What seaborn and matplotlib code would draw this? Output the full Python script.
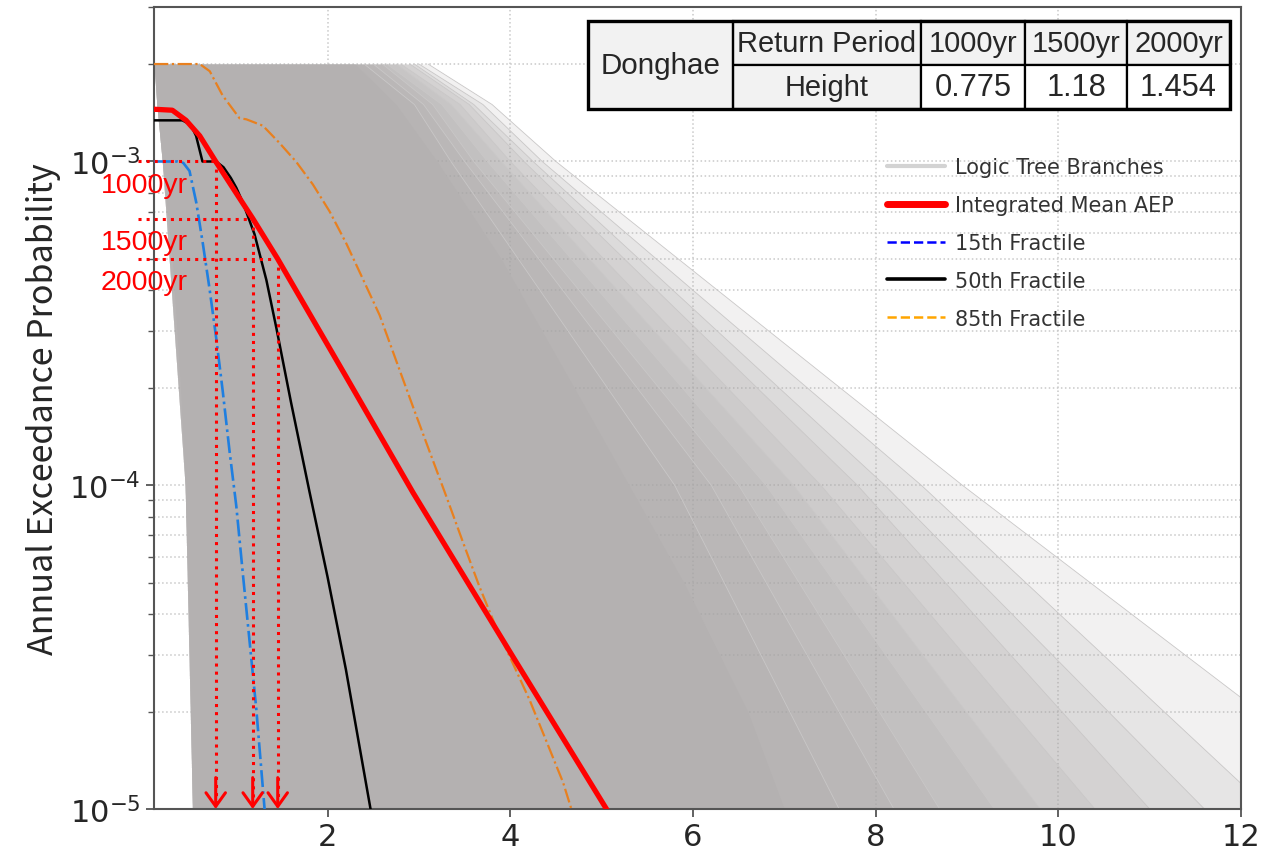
import numpy as np
import pandas as pd
import matplotlib
matplotlib.use("Agg")
import matplotlib.pyplot as plt
import seaborn as sns
from matplotlib.lines import Line2D
from matplotlib.patches import Rectangle
from matplotlib import font_manager as fm

# ---------------- data ----------------
# dense core of the logic-tree branches: x at each AEP level
levels_aep = [2e-3, 1.5e-3, 1e-3, 5e-4, 2e-4, 1e-4, 5e-5, 2e-5, 1e-5]
branch_left_x = [0.10, 0.13, 0.19, 0.30, 0.39, 0.44, 0.47, 0.50, 0.52]
branch_core_x = [2.3, 2.75, 3.2, 3.9, 4.7, 5.3, 5.9, 6.6, 7.0]

# sparser outer branches: x at AEP = 2e-3 (leaving the cap), 1.5e-3, 1e-3, 1e-4, 1e-5
fringe_aep = [2e-3, 1.5e-3, 1e-3, 1e-4, 1e-5]
fringe_left_x = [0.10, 0.13, 0.19, 0.44, 0.52]
fringe_branches = [
    [2.40, 2.95, 3.35, 5.8, 7.6],
    [2.50, 3.05, 3.50, 6.2, 8.2],
    [2.60, 3.15, 3.60, 6.5, 8.7],
    [2.65, 3.25, 3.75, 6.8, 9.3],
    [2.75, 3.35, 3.90, 7.1, 9.8],
    [2.80, 3.45, 4.00, 7.4, 10.4],
    [2.90, 3.55, 4.15, 7.8, 11.0],
    [2.95, 3.60, 4.25, 8.1, 11.6],
    [3.00, 3.70, 4.35, 8.5, 12.3],
    [3.10, 3.80, 4.50, 8.95, 13.6],
]

mean_x = [0.1, 0.3, 0.45, 0.6, 0.775, 1.0, 1.18, 1.454, 2.2, 2.934, 4.03, 5.053, 5.2]
mean_aep = [1.45e-3, 1.44e-3, 1.34e-3, 1.2e-3, 1e-3, 7.98e-4, 6.67e-4, 5e-4,
            2.17e-4, 9.5e-5, 2.95e-5, 1e-5, 8.55e-6]

fr15_x = [0.1, 0.36, 0.42, 0.488, 0.562, 0.634, 0.707, 0.781, 0.853, 0.927,
          1.0, 1.072, 1.146, 1.219, 1.31, 1.33]
fr15_aep = [1e-3, 1e-3, 9.9e-4, 9.35e-4, 7.47e-4, 5.58e-4, 4.05e-4, 2.84e-4,
            1.94e-4, 1.27e-4, 8.64e-5, 5.33e-5, 3.29e-5, 2.04e-5, 1e-5, 9e-6]

fr50_x = [0.1, 0.41, 0.5, 0.56, 0.63, 0.78, 0.86, 0.94, 1.0, 1.072, 1.2, 1.33,
          1.44, 1.6, 1.8, 2.0, 2.2, 2.47, 2.52]
fr50_aep = [1.34e-3, 1.34e-3, 1.3e-3, 1.2e-3, 1.0e-3, 1.0e-3, 9.6e-4, 8.9e-4,
            8.3e-4, 7.47e-4, 5.96e-4, 4.3e-4, 3.05e-4, 1.8e-4, 9.6e-5, 5.2e-5,
            2.7e-5, 1e-5, 8.6e-6]

fr85_x = [0.1, 0.6, 0.71, 0.85, 1.036, 1.11, 1.291, 1.474, 1.657, 1.839, 2.022,
          2.205, 2.387, 2.57, 2.752, 2.934, 3.117, 3.3, 3.482, 3.665, 3.848,
          4.03, 4.212, 4.395, 4.577, 4.669, 4.75]
fr85_aep = [2e-3, 2e-3, 1.9e-3, 1.6e-3, 1.36e-3, 1.35e-3, 1.29e-3, 1.14e-3,
            9.97e-4, 8.49e-4, 7.01e-4, 5.58e-4, 4.33e-4, 3.35e-4, 2.42e-4,
            1.75e-4, 1.27e-4, 9.23e-5, 6.67e-5, 4.84e-5, 3.62e-5, 2.81e-5,
            2.17e-5, 1.62e-5, 1.21e-5, 1e-5, 8.6e-6]

return_periods = ["1000yr", "1500yr", "2000yr"]
return_aep = [1e-3, 1 / 1500, 5e-4]
return_height = [0.775, 1.18, 1.454]
site_name = "Donghae"

legend_labels = ["Logic Tree Branches", "Integrated Mean AEP", "15th Fractile",
                 "50th Fractile", "85th Fractile"]

# ---------------- style ----------------
sns.set_style("white")
plt.rcParams["font.family"] = ["DejaVu Sans"]
names = {f.name for f in fm.fontManager.ttflist}
NARROW = "Liberation Sans Narrow" in names
table_font = "Liberation Sans Narrow" if NARROW else "Liberation Sans"
tscale = 1.0 if NARROW else 0.82

fig = plt.figure(figsize=(12.68, 8.53), dpi=100)
ax = fig.add_axes([0.1215, 0.0504, 0.8572, 0.9402])
ax.set_yscale("log")
ax.set_xlim(0.1, 12)
ax.set_ylim(1e-5, 3e-3)

# ---------------- branches ----------------
for bx in fringe_branches:
    ax.fill_betweenx(fringe_aep, fringe_left_x, bx, color="#a8a5a5",
                     alpha=0.15, lw=0, zorder=1)
    sns.lineplot(x=bx, y=fringe_aep, ax=ax, sort=False, estimator=None,
                 color="#c9c7c7", lw=0.6, legend=False, zorder=1.05)
ax.fill_betweenx(levels_aep, branch_left_x, branch_core_x, color="#b4b1b1",
                 lw=0, zorder=1.1)

# ---------------- mean and fractiles ----------------
def sline(xs, ys, **kw):
    df = pd.DataFrame({"x": xs, "y": ys})
    sns.lineplot(data=df, x="x", y="y", ax=ax, sort=False, estimator=None,
                 legend=False, **kw)

sline(fr15_x, fr15_aep, color="#1f7fe0", lw=1.9, linestyle="-.", zorder=4)
sline(fr50_x, fr50_aep, color="black", lw=1.8, zorder=4)
sline(fr85_x, fr85_aep, color="#e8801f", lw=1.6, linestyle="-.", zorder=4)
sline(mean_x, mean_aep, color="red", lw=3.8, zorder=5)

# ---------------- return-period markers ----------------
for lab, aep, h in zip(return_periods, return_aep, return_height):
    ax.plot([-0.08, h], [aep, aep], ls=":", color="red", lw=2.2,
            clip_on=False, zorder=6)
    ax.plot([h, h], [aep, 1e-5], ls=":", color="red", lw=2.2, zorder=6)
    ax.annotate("", xy=(h, 1e-5), xytext=(h, 1.25e-5),
                arrowprops=dict(arrowstyle="->,head_length=0.35,head_width=0.25",
                                color="red", lw=2.2, mutation_scale=28,
                                shrinkA=0, shrinkB=0), zorder=6)
    ax.annotate(lab, xy=(0.47, aep), xytext=(0, -7.5), textcoords="offset points",
                ha="right", va="top", color="red", fontsize=25 * tscale,
                family=table_font, annotation_clip=False, zorder=7)

# ---------------- axes cosmetics ----------------
ax.set_xticks([2, 4, 6, 8, 10, 12])
ax.tick_params(axis="both", which="major", labelsize=22, length=6, width=1.3,
               color="#555555", direction="out", bottom=True, left=True)
ax.tick_params(axis="y", which="minor", length=4, width=1.0, color="#555555",
               left=True)
ax.grid(True, which="both", ls=":", color="#c9c9c9", lw=1.1)
ax.set_axisbelow(True)
for sp in ax.spines.values():
    sp.set_color("#555555")
    sp.set_linewidth(1.5)
ax.set_ylabel("Annual Exceedance Probability", fontsize=24.5,
              family=["Noto Sans CJK KR", "DejaVu Sans"], labelpad=6)
ax.set_xlabel("")

# ---------------- legend ----------------
handles = [Line2D([], [], color="#d3d3d3", lw=3),
           Line2D([], [], color="red", lw=5),
           Line2D([], [], color="blue", lw=1.8, ls="--"),
           Line2D([], [], color="black", lw=2.6),
           Line2D([], [], color="#ffa500", lw=1.8, ls="--")]
leg = ax.legend(handles, legend_labels, loc="upper left",
                bbox_to_anchor=(0.674, 0.813), frameon=False, fontsize=15,
                labelspacing=0.86, handlelength=2.8, handletextpad=0.5,
                borderpad=0, borderaxespad=0)
for t in leg.get_texts():
    t.set_color("#333333")

# ---------------- table ----------------
col_w = np.array([145, 188, 104, 102, 103], dtype=float)
col_w = col_w / col_w.sum()
cell_text = [[site_name, "Return Period"] + return_periods,
             ["", "Height"] + [f"{h:g}" for h in return_height]]
tb_x0, tb_y0, tb_w, tb_h = 0.3993, 0.8728, 0.5906, 0.1097
tbl = ax.table(cellText=cell_text, cellLoc="center", colWidths=list(col_w),
               bbox=[tb_x0, tb_y0, tb_w, tb_h])
tbl.auto_set_font_size(False)
tbl.set_zorder(10)
for (r, c), cell in tbl.get_celld().items():
    face = "white" if (r == 1 and c >= 2) else "#f2f2f2"
    cell.set_facecolor(face)
    cell.set_edgecolor(face if c == 0 else "black")
    cell.set_linewidth(1.6)
    txt = cell.get_text()
    txt.set_fontfamily(table_font)
    txt.set_fontsize((27 if (r == 1 and c >= 2) else 25.5) * tscale)
    if c == 0:
        txt.set_text("")
xdiv = tb_x0 + tb_w * col_w[0]
ax.plot([xdiv, xdiv], [tb_y0, tb_y0 + tb_h], transform=ax.transAxes,
        color="black", lw=1.6, zorder=11, clip_on=False)
ax.text(tb_x0 + tb_w * col_w[0] / 2, tb_y0 + tb_h / 2, site_name,
        transform=ax.transAxes, ha="center", va="center", zorder=12,
        fontsize=26 * tscale, family=table_font)
ax.add_patch(Rectangle((tb_x0, tb_y0), tb_w, tb_h, transform=ax.transAxes,
                       fill=False, lw=2.4, ec="black", zorder=12, clip_on=False))

fig.savefig("out.png", dpi=100)
